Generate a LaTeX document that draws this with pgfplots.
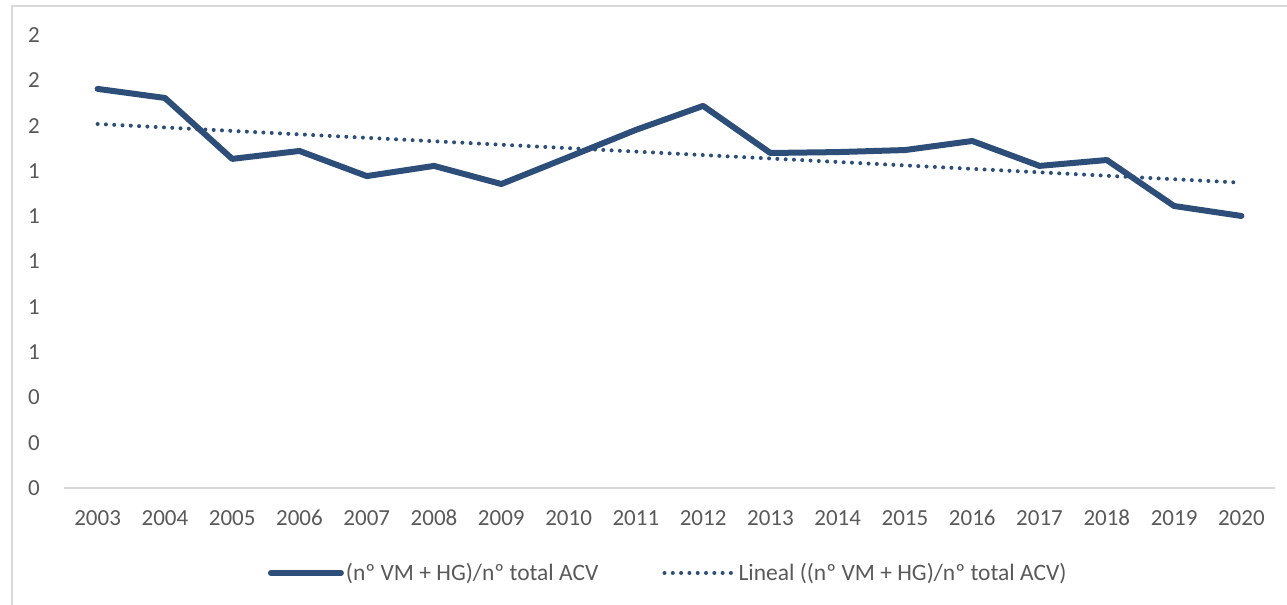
\documentclass[border=0pt]{standalone}
\usepackage{pgfplots}
\pgfplotsset{compat=1.18}
\usepackage{fontspec}
\setmainfont{Carlito}
\definecolor{linec}{RGB}{44,78,120}
\definecolor{txt}{RGB}{89,89,89}
\definecolor{framec}{RGB}{217,217,217}
\begin{document}
\begin{tikzpicture}[x=1bp,y=1bp]
\useasboundingbox (0,0) rectangle (1287,605);
\draw[framec, line width=1.5bp] (12,0) -- (12,599) -- (1287,599);
\begin{axis}[
  at={(64bp,117bp)}, anchor=south west,
  scale only axis, width=1211bp, height=453bp,
  xmin=-0.5, xmax=17.5, ymin=0, ymax=2,
  axis x line=bottom, axis y line=left,
  x axis line style={-, framec, line width=1.5bp},
  y axis line style={draw=none},
  xtick={0,1,...,17},
  xticklabels={2003,2004,2005,2006,2007,2008,2009,2010,2011,2012,2013,2014,2015,2016,2017,2018,2019,2020},
  ytick={0,0.2,0.4,0.6,0.8,1.0,1.2,1.4,1.6,1.8,2.0},
  yticklabels={0,0,0,1,1,1,1,1,2,2,2},
  major tick length=0pt,
  tick label style={font=\fontsize{23bp}{27bp}\selectfont, text=txt},
  xticklabel style={inner sep=0pt, anchor=north, yshift=-22bp},
  yticklabel style={inner sep=0pt, anchor=east, xshift=-24bp},
  legend columns=2,
  legend cell align=left,
  legend style={draw=none, fill=none, at={(0.499,-0.1876)}, anchor=center,
    font=\fontsize{23.5bp}{27bp}\selectfont, text=txt,
    /tikz/every even column/.append style={column sep=62bp}},
  legend image code/.code={\draw[#1] (0bp,0bp) -- (70bp,0bp);},
]
\addplot[linec, line width=6bp, line cap=round, line join=round] coordinates {
(0,1.762) (1,1.722) (2,1.453) (3,1.488) (4,1.377) (5,1.422) (6,1.342) (7,1.461) (8,1.581)
(9,1.687) (10,1.479) (11,1.483) (12,1.492) (13,1.532) (14,1.422) (15,1.448) (16,1.245) (17,1.201)};
\addlegendentry{(nº VM + HG)/nº total ACV}
\addplot[linec, line width=4bp, line cap=round, dash pattern=on 0bp off 8.3bp] coordinates {
(0,1.607) (17,1.348)};
\addlegendentry{Lineal ((nº VM + HG)/nº total ACV)}
\end{axis}
\end{tikzpicture}
\end{document}
